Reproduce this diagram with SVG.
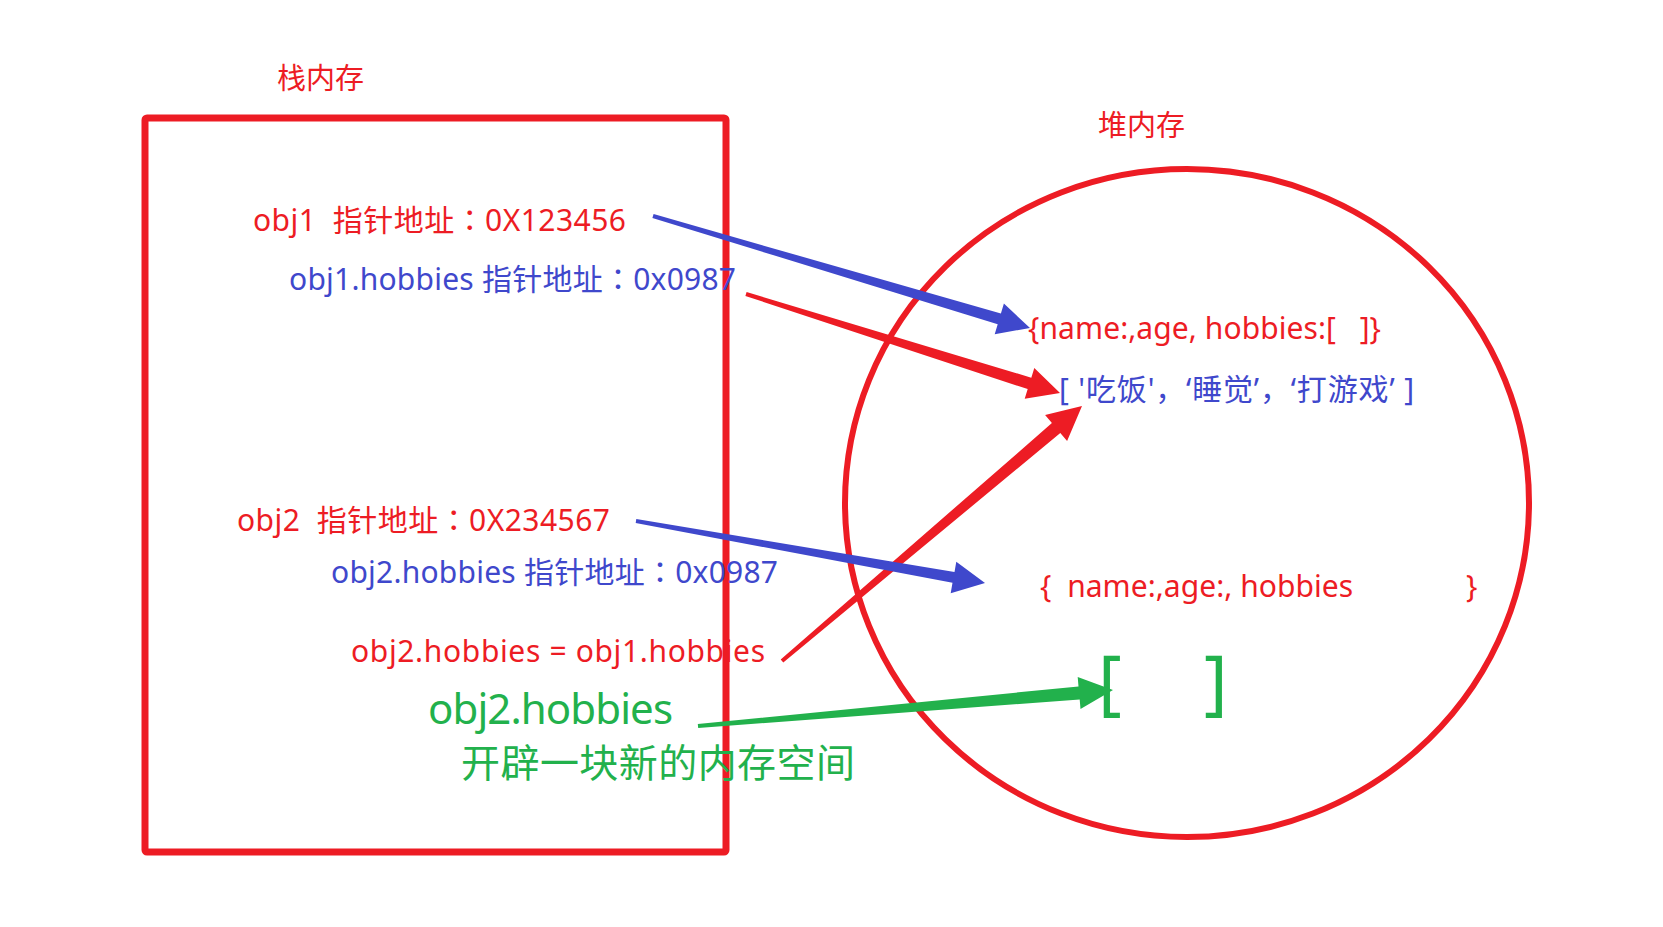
<svg xmlns="http://www.w3.org/2000/svg" width="1663" height="927" viewBox="0 0 1663 927">
<style>
text{font-family:"Noto Sans","Noto Sans CJK SC",sans-serif;font-size:30px}
.r{fill:#ED1C24}.b{fill:#3F48CC}.g{fill:#22B14C}
.t{font-size:29px}
.c{font-family:"Noto Sans CJK JP","Noto Sans CJK SC",sans-serif}
.frame{fill:none;stroke:#ED1C24;stroke-width:7}
</style>
<rect width="1663" height="927" fill="#fff"/>
<g id="stack">
<rect class="frame" x="145" y="118" width="581" height="734" rx="2"/>
<text class="r t" x="277" y="89">栈内存</text>
</g>
<g id="heap">
<ellipse class="frame" style="stroke-width:6" cx="1187" cy="503" rx="342" ry="334"/>
<text class="r t" x="1098" y="136">堆内存</text>
</g>
<g id="obj1"><text class="r" xml:space="preserve" x="253" y="231" textLength="373">obj1  指针地址<tspan class="c">：</tspan>0X123456</text></g>
<g id="obj1-hobbies"><text class="b" x="289" y="290" textLength="447">obj1.hobbies 指针地址<tspan class="c">：</tspan>0x0987</text></g>
<g id="obj2"><text class="r" xml:space="preserve" x="237" y="531" textLength="373">obj2  指针地址<tspan class="c">：</tspan>0X234567</text></g>
<g id="obj2-hobbies"><text class="b" x="331" y="583" textLength="447">obj2.hobbies 指针地址<tspan class="c">：</tspan>0x0987</text></g>
<g id="assign"><text class="r" x="351" y="662" textLength="414">obj2.hobbies = obj1.hobbies</text></g>
<g id="new-space">
<text class="g" x="428" y="724" style="font-size:42px" textLength="245">obj2.hobbies</text>
<text class="g" x="461" y="777" style="font-size:39px" textLength="394">开辟一块新的内存空间</text>
</g>
<g id="heap-obj1"><text class="r" xml:space="preserve" x="1028" y="339" textLength="353">{name:,age, hobbies:[   ]}</text></g>
<g id="heap-array"><text class="b" xml:space="preserve" x="1059" y="400" textLength="355">[ '吃饭'，‘睡觉’，‘打游戏’ ]</text></g>
<g id="heap-obj2"><text class="r" xml:space="preserve" x="1040" y="597"><tspan textLength="313">{  name:,age:, hobbies</tspan><tspan x="1466">}</tspan></text></g>
<g id="heap-new-array"><text class="g" style="font-size:72px" y="707"><tspan x="1098">[</tspan><tspan x="1204">]</tspan></text></g>
<g id="connectors">
<polygon class="b" points="652.4,217.9 997.7,324.2 994.7,334.2 1030,328 1003.9,303.6 1000.9,313.6 653.6,214.1"/>
<polygon class="r" points="745.4,295.9 1027.7,389.1 1024.7,398.7 1060,393 1034.3,368.1 1031.3,377.7 746.6,292.1"/>
<polygon class="r" points="783.3,662.5 1060.3,433.0 1067.1,441.0 1082,406 1045.1,415.1 1051.9,423.1 780.7,659.5"/>
<polygon class="b" points="635.7,523.0 952.5,582.8 950.7,593.2 985,583 956.3,561.7 954.5,572.0 636.3,519.0"/>
<polygon class="g" points="698.2,728.0 1079.7,699.4 1080.5,708.9 1113,690 1077.7,677.0 1078.5,686.4 697.8,724.0"/>
</g>
</svg>
